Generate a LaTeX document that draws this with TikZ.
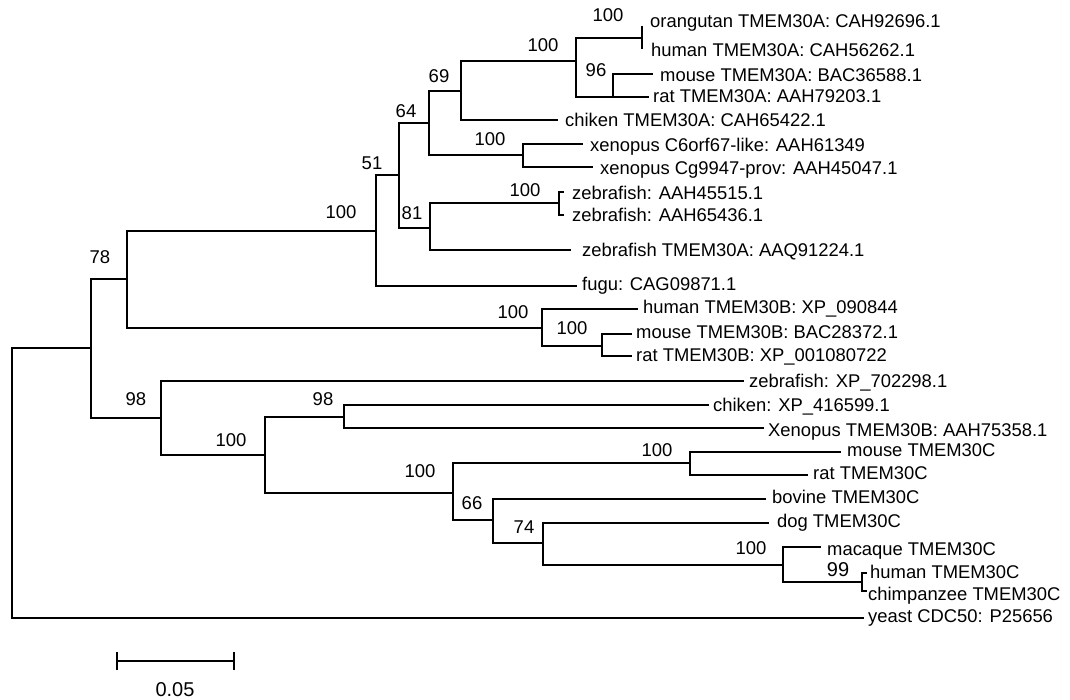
\documentclass[tikz,border=0pt]{standalone}
\usepackage{fontspec}
\setmainfont{Liberation Sans}
\begin{document}
\begin{tikzpicture}[x=1pt,y=-1pt,
  br/.style={line width=1.1pt, black, line cap=rect},
  lf/.style={anchor=base west, inner sep=0pt, font=\fontsize{18.4}{22}\selectfont},
  bs/.style={anchor=center, inner sep=0pt, font=\fontsize{18.5}{22}\selectfont}]
\useasboundingbox (0,0) rectangle (1070,700);
% internal nodes
\coordinate (root) at (12,348);
\coordinate (A) at (91,348);
\coordinate (n78) at (127,279);
\coordinate (n100a) at (376,231);
\coordinate (n51) at (399,175);
\coordinate (n64) at (429,123);
\coordinate (n69) at (461,91);
\coordinate (n100t) at (576,61);
\coordinate (n100ou) at (642,38);
\coordinate (n96) at (613,97);
\coordinate (nxen) at (523,155);
\coordinate (n81) at (430,228);
\coordinate (nzf) at (559,203);
\coordinate (n100B) at (542,328);
\coordinate (n100mr) at (602,346);
\coordinate (n98a) at (161,418);
\coordinate (n100c) at (265,455);
\coordinate (n98b) at (344,417);
\coordinate (n100d) at (453,493);
\coordinate (n100mrC) at (690,463);
\coordinate (n66) at (493,520);
\coordinate (n74) at (543,543);
\coordinate (n100p) at (783,565);
\coordinate (n99) at (862,582);
% leaves
\coordinate (oran) at (642,27);
\coordinate (humA) at (642,48);
\coordinate (mouA) at (652,74);
\coordinate (ratA) at (648,97);
\coordinate (chiA) at (557,120);
\coordinate (xen1) at (582,144);
\coordinate (xen2) at (592,167);
\coordinate (zf1) at (563,192);
\coordinate (zf2) at (563,215);
\coordinate (zfA) at (570,250);
\coordinate (fugu) at (576,286);
\coordinate (humB) at (637,309);
\coordinate (mouB) at (631,334);
\coordinate (ratB) at (631,356);
\coordinate (zfX) at (743,381);
\coordinate (chiX) at (708,405);
\coordinate (xenB) at (763,428);
\coordinate (mouC) at (840,452);
\coordinate (ratC) at (807,475);
\coordinate (bov) at (765,499);
\coordinate (dog) at (768,523);
\coordinate (mac) at (820,547);
\coordinate (humC) at (866,573);
\coordinate (chiC) at (866,591);
\coordinate (yeast) at (863,618);
% branches
\draw[br] (root) |- (A);
\draw[br] (root) |- (yeast);
\draw[br] (A) |- (n78);
\draw[br] (A) |- (n98a);
\draw[br] (n78) |- (n100a);
\draw[br] (n78) |- (n100B);
\draw[br] (n100a) |- (n51);
\draw[br] (n100a) |- (fugu);
\draw[br] (n51) |- (n64);
\draw[br] (n51) |- (n81);
\draw[br] (n64) |- (n69);
\draw[br] (n64) |- (nxen);
\draw[br] (n69) |- (n100t);
\draw[br] (n69) |- (chiA);
\draw[br] (n100t) |- (n100ou);
\draw[br] (n100t) |- (n96);
\draw[br] (n100ou) |- (oran);
\draw[br] (n100ou) |- (humA);
\draw[br] (n96) |- (mouA);
\draw[br] (n96) |- (ratA);
\draw[br] (nxen) |- (xen1);
\draw[br] (nxen) |- (xen2);
\draw[br] (n81) |- (nzf);
\draw[br] (n81) |- (zfA);
\draw[br] (nzf) |- (zf1);
\draw[br] (nzf) |- (zf2);
\draw[br] (n100B) |- (humB);
\draw[br] (n100B) |- (n100mr);
\draw[br] (n100mr) |- (mouB);
\draw[br] (n100mr) |- (ratB);
\draw[br] (n98a) |- (zfX);
\draw[br] (n98a) |- (n100c);
\draw[br] (n100c) |- (n98b);
\draw[br] (n100c) |- (n100d);
\draw[br] (n98b) |- (chiX);
\draw[br] (n98b) |- (xenB);
\draw[br] (n100d) |- (n100mrC);
\draw[br] (n100d) |- (n66);
\draw[br] (n100mrC) |- (ratC);
\draw[br, line width=1.6pt] (n100mrC) |- (mouC);
\draw[br] (n66) |- (bov);
\draw[br] (n66) |- (n74);
\draw[br] (n74) |- (dog);
\draw[br] (n74) |- (n100p);
\draw[br] (n100p) |- (mac);
\draw[br] (n100p) |- (n99);
\draw[br] (n99) |- (humC);
\draw[br] (n99) |- (chiC);
% leaf labels
\node[lf] (t-oran) at (650,28) {orangutan TMEM30A: CAH92696.1};
\node[lf] (t-humA) at (651,57) {human TMEM30A: CAH56262.1};
\node[lf] (t-mouA) at (660,82) {mouse TMEM30A: BAC36588.1};
\node[lf] (t-ratA) at (653,103) {rat TMEM30A: AAH79203.1};
\node[lf] (t-chiA) at (565,127) {chiken TMEM30A: CAH65422.1};
\node[lf] (t-xen1) at (590,152) {xenopus C6orf67-like: AAH61349};
\node[lf] (t-xen2) at (600,175) {xenopus Cg9947-prov: AAH45047.1};
\node[lf] (t-zf1) at (572,200) {zebrafish: AAH45515.1};
\node[lf] (t-zf2) at (572,222) {zebrafish: AAH65436.1};
\node[lf] (t-zfA) at (582,257) {zebrafish TMEM30A: AAQ91224.1};
\node[lf] (t-fugu) at (582,291) {fugu: CAG09871.1};
\node[lf] (t-humB) at (643,313) {human TMEM30B: XP\_090844};
\node[lf] (t-mouB) at (636,338) {mouse TMEM30B: BAC28372.1};
\node[lf] (t-ratB) at (636,361) {rat TMEM30B: XP\_001080722};
\node[lf] (t-zfX) at (749,387) {zebrafish: XP\_702298.1};
\node[lf] (t-chiX) at (713,411) {chiken: XP\_416599.1};
\node[lf] (t-xenB) at (768,436) {Xenopus TMEM30B: AAH75358.1};
\node[lf] (t-mouC) at (847,456) {mouse TMEM30C};
\node[lf] (t-ratC) at (813,479) {rat TMEM30C};
\node[lf] (t-bov) at (772,503) {bovine TMEM30C};
\node[lf] (t-dog) at (777,527) {dog TMEM30C};
\node[lf] (t-mac) at (827,555) {macaque TMEM30C};
\node[lf] (t-humC) at (870,578) {human TMEM30C};
\node[lf] (t-chiC) at (868,600) {chimpanzee TMEM30C};
\node[lf] (t-yeast) at (868,622) {yeast CDC50: P25656};
% bootstrap values
\node[bs] (b1) at (608,15) {100};
\node[bs] (b2) at (543,45) {100};
\node[bs] (b3) at (596,70) {96};
\node[bs] (b4) at (439,76) {69};
\node[bs] (b5) at (406,111) {64};
\node[bs] (b6) at (490,139) {100};
\node[bs] (b7) at (372,163) {51};
\node[bs] (b8) at (525,190) {100};
\node[bs] (b9) at (412,213) {81};
\node[bs] (b10) at (341,212) {100};
\node[bs] (b11) at (100,257) {78};
\node[bs] (b12) at (513,312) {100};
\node[bs] (b13) at (572,328) {100};
\node[bs] (b14) at (136,399) {98};
\node[bs] (b15) at (323,399) {98};
\node[bs] (b16) at (231,440) {100};
\node[bs] (b17) at (420,471) {100};
\node[bs] (b18) at (657,450) {100};
\node[bs] (b19) at (472,503) {66};
\node[bs] (b20) at (524,527) {74};
\node[bs] (b21) at (751,548) {100};
\node[bs, font=\fontsize{20}{22}\selectfont] (b22) at (838,570) {99};
% scale bar
\coordinate (sb1) at (117,661);
\coordinate (sb2) at (234,661);
\draw[br] (sb1) -- (sb2);
\draw[br] ([yshift=8pt]sb1) -- ([yshift=-8pt]sb1);
\draw[br] ([yshift=8pt]sb2) -- ([yshift=-8pt]sb2);
\node[bs, font=\fontsize{20}{22}\selectfont] (sbt) at (175,690) {0.05};
\end{tikzpicture}
\end{document}
